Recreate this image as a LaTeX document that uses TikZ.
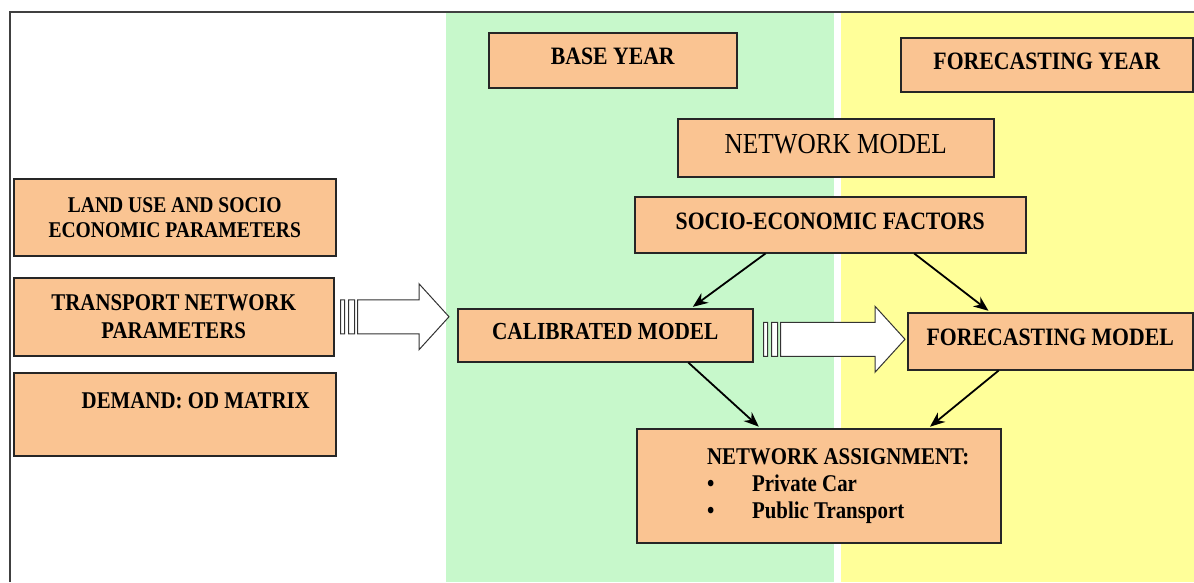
\documentclass[tikz,border=0pt]{standalone}
\usepackage{fontspec}
\setmainfont{Liberation Serif}[FakeStretch=0.87]
\usetikzlibrary{calc,arrows.meta}

\definecolor{boxfill}{RGB}{250,196,146}
\definecolor{basegreen}{RGB}{199,248,203}
\definecolor{foreyellow}{RGB}{255,255,153}

\newcommand{\hollowarrow}[2]{%
  \filldraw[hollow] let \p1 = (#1), \p2 = (#2) in
    (\x1,\y1+17pt) rectangle (\x1+4pt,\y1-17pt)
    (\x1+8pt,\y1+17pt) rectangle (\x1+14pt,\y1-17pt)
    (\x1+17pt,\y1+17pt) -- (\x2-30pt,\y1+17pt) -- (\x2-30pt,\y1+33pt)
    -- (\x2,\y1) -- (\x2-30pt,\y1-33pt) -- (\x2-30pt,\y1-17pt)
    -- (\x1+17pt,\y1-17pt) -- cycle;}

\begin{document}
\begin{tikzpicture}[x=1pt, y=-1pt,
    box/.style={draw=black!85, line width=1.5pt, fill=boxfill, anchor=north west,
      inner sep=0pt, font=\bfseries\fontsize{25}{30}\selectfont},
    oneline/.style={text depth=8pt},
    hollow/.style={fill=white, draw=black!80, line width=1pt},
    flow/.style={->, line width=1.8pt, shorten >=2pt},
    >={Stealth[length=15pt,width=12pt]}]

  \useasboundingbox (0,0) rectangle (1194,582);
  \fill[basegreen] (446,12) rectangle (834,582);
  \fill[foreyellow] (841,12) rectangle (1194,582);
  \draw[black!75, line width=1.2pt] (10,582) -- (10,12) -- (1194,12);

  \node[box, oneline, minimum width=248, minimum height=55] (base) at (488,32) {BASE YEAR};
  \node[box, oneline, minimum width=292, minimum height=54] (fyear) at (900,37) {FORECASTING YEAR};
  \node[box, oneline, minimum width=316, minimum height=58,
    font=\mdseries\fontsize{29}{33}\selectfont] (netmodel) at (677,118) {NETWORK MODEL};
  \node[box, oneline, minimum width=391, minimum height=56] (socio) at (634,196) {SOCIO-ECONOMIC FACTORS};

  \node[box, align=center, minimum width=322, minimum height=77,
    font=\bfseries\fontsize{22.5}{25}\selectfont] (landuse) at (13,178)
    {LAND USE AND SOCIO\\ECONOMIC PARAMETERS};
  \node[box, align=center, minimum width=320, minimum height=78,
    font=\bfseries\fontsize{24}{28}\selectfont] (transport) at (13,277)
    {TRANSPORT NETWORK\\PARAMETERS};
  \node[box, text depth=27pt, minimum width=322, minimum height=83,
    font=\bfseries\fontsize{24}{28}\selectfont] (demand) at (13,372)
    {\hspace*{42pt}DEMAND: OD MATRIX};

  \node[box, oneline, minimum width=295, minimum height=53,
    font=\bfseries\fontsize{24.5}{28}\selectfont] (calibrated) at (457,308) {CALIBRATED MODEL};
  \node[box, oneline, minimum width=285, minimum height=57] (fmodel) at (907,312) {FORECASTING MODEL};
  \node[box, align=left, minimum width=364, minimum height=114,
    font=\bfseries\fontsize{24}{27}\selectfont] (assign) at (636,428)
    {\hspace*{39pt}NETWORK ASSIGNMENT:\\
     \hspace*{39pt}\makebox[45pt][l]{\textbullet}Private Car\\
     \hspace*{39pt}\makebox[45pt][l]{\textbullet}Public Transport};

  \hollowarrow{$(transport.east)+(6,0)$}{$(calibrated.west)+(-8,0)$}
  \hollowarrow{$(calibrated.east)+(10,4)$}{$(fmodel.west)+(-2,0)$}

  \draw[flow] ($(socio.south west)!.335!(socio.south east)$) -- ($(calibrated.north west)!.79!(calibrated.north east)$);
  \draw[flow] ($(socio.south west)!.714!(socio.south east)$) -- ($(fmodel.north west)!.29!(fmodel.north east)$);
  \draw[flow] ($(calibrated.south west)!.78!(calibrated.south east)$) -- ($(assign.north west)!.34!(assign.north east)$);
  \draw[flow] ($(fmodel.south west)!.32!(fmodel.south east)$) -- ($(assign.north west)!.80!(assign.north east)$);
\end{tikzpicture}
\end{document}
